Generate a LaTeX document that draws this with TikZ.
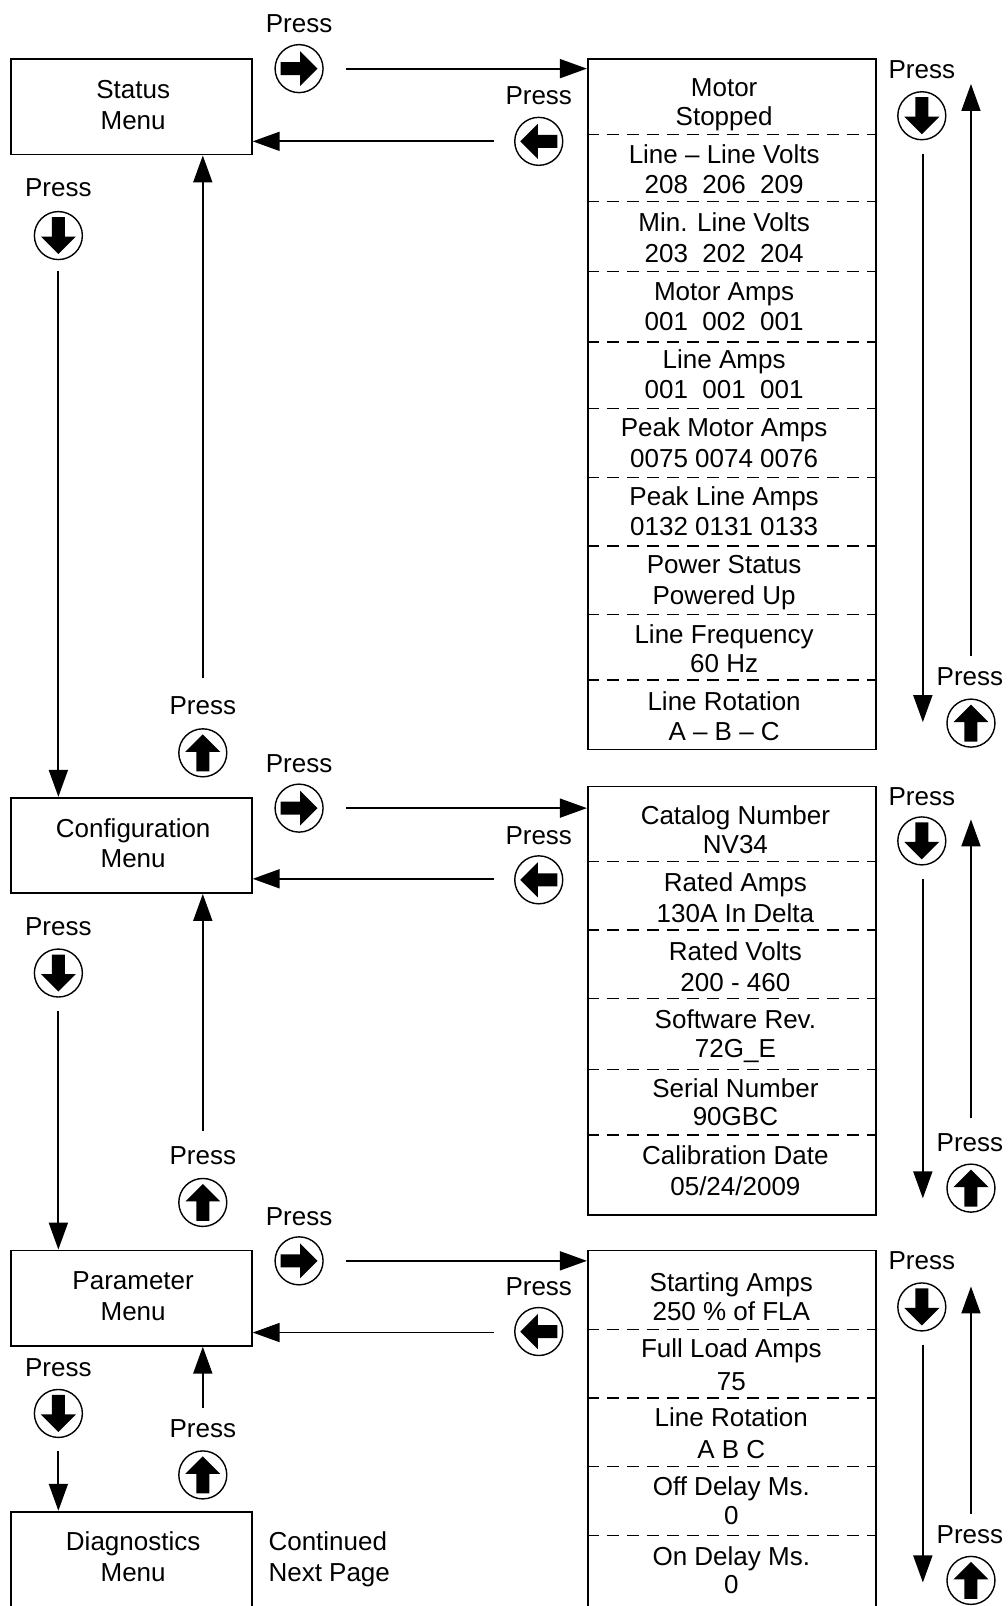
\documentclass[tikz,border=0pt]{standalone}
\usepackage{fontspec}
\setmainfont{Liberation Sans}
\usetikzlibrary{arrows.meta}
\newcommand\tline[4]{\node[txt,anchor=base] (#1) at (#2,#3+9.2) {#4};}
\newcommand\tlinew[4]{\node[txt,anchor=base west] (#1) at (#2,#3+9.2) {#4};}
\begin{document}
\begin{tikzpicture}[x=1.0244pt,y=-1.0244pt,
  txt/.style={inner sep=0pt, font=\fontsize{26}{30}\selectfont},
  menubox/.style={draw, line width=1.8pt, minimum width=240.7pt, minimum height=95.3pt, inner sep=0pt, anchor=north west},
  panel/.style={draw, line width=1.8pt, minimum width=287.9pt, inner sep=0pt, anchor=north west},
  dashline/.style={line width=1.3pt, dash pattern=on 12pt off 8pt},
  conn/.style={line width=1.8pt, -{Triangle[length=27pt,width=19pt]}},
  button/.style n args={2}{circle, draw, line width=1.4pt, minimum size=48pt, inner sep=0pt,
    path picture={\fill[shift={(path picture bounding box.center)}, x={#1}, y={#2}]
      (-18.5,-6.5) -- (1,-6.5) -- (1,-17.5) -- (18.5,0) -- (1,17.5) -- (1,6.5) -- (-18.5,6.5) -- cycle;}},
  btnR/.style={button={(1pt,0pt)}{(0pt,1pt)}},
  btnL/.style={button={(-1pt,0pt)}{(0pt,1pt)}},
  btnU/.style={button={(0pt,1pt)}{(1pt,0pt)}},
  btnD/.style={button={(0pt,-1pt)}{(1pt,0pt)}}
]
\path[use as bounding box, clip] (0,0) rectangle (984,1568);

% ---------- menu boxes ----------
\node[menubox] (status) at (10,57) {};
\node[menubox] (config) at (10,778) {};
\node[menubox] (param) at (10,1220) {};
\node[menubox, minimum height=110pt] (diag) at (10,1475) {};
\tline{statusa}{130}{87}{Status}
\tline{statusb}{130}{117}{Menu}
\tline{configa}{130}{808}{Configuration}
\tline{configb}{130}{838}{Menu}
\tline{parama}{130}{1250}{Parameter}
\tline{paramb}{130}{1280}{Menu}
\tline{diaga}{130}{1505}{Diagnostics}
\tline{diagb}{130}{1535}{Menu}
\tlinew{conta}{262}{1505}{Continued}
\tlinew{contb}{262}{1535}{Next Page}

% ---------- panels ----------
\node[panel, minimum height=690.4pt] (p1) at (573,57) {};
\node[panel, minimum height=428.2pt] (p2) at (573,767) {};
\node[panel, minimum height=380pt] (p3) at (573,1220) {};

\foreach \yy in {131,197,265,334,399,466,533,600,664}
  \draw[dashline] (573,\yy) -- (854,\yy);
\foreach \yy in {841,908,975,1044,1108}
  \draw[dashline] (573,\yy) -- (854,\yy);
\foreach \yy in {1298,1365,1432,1499}
  \draw[dashline] (573,\yy) -- (854,\yy);

% panel 1 texts
\tline{a1}{707}{85}{Motor}
\tline{b1}{707}{113}{Stopped}
\tline{a2}{707}{150}{Line – Line Volts}
\tline{b2}{707}{180}{208\ \ 206\ \ 209}
\tline{a3}{707}{217}{Min. Line Volts}
\tline{b3}{707}{247}{203\ \ 202\ \ 204}
\tline{a4}{707}{284}{Motor Amps}
\tline{b4}{707}{313}{001\ \ 002\ \ 001}
\tline{a5}{707}{351}{Line Amps}
\tline{b5}{707}{380}{001\ \ 001\ \ 001}
\tline{a6}{707}{417}{Peak Motor Amps}
\tline{b6}{707}{447}{0075 0074 0076}
\tline{a7}{707}{484}{Peak Line Amps}
\tline{b7}{707}{514}{0132 0131 0133}
\tline{a8}{707}{551}{Power Status}
\tline{b8}{707}{581}{Powered Up}
\tline{a9}{707}{619}{Line Frequency}
\tline{b9}{707}{647}{60 Hz}
\tline{a10}{707}{684}{Line Rotation}
\tline{b10}{707}{714}{A – B – C}

% panel 2 texts
\tline{c1}{718}{796}{Catalog Number}
\tline{d1}{718}{824}{NV34}
\tline{c2}{718}{861}{Rated Amps}
\tline{d2}{718}{891}{130A In Delta}
\tline{c3}{718}{929}{Rated Volts}
\tline{d3}{718}{959}{200 - 460}
\tline{c4}{718}{995}{Software Rev.}
\tline{d4}{718}{1023}{72G\_E}
\tline{c5}{718}{1062}{Serial Number}
\tline{d5}{718}{1090}{90GBC}
\tline{c6}{718}{1128}{Calibration Date}
\tline{d6}{718}{1158}{05/24/2009}

% panel 3 texts
\tline{e1}{714}{1252}{Starting Amps}
\tline{f1}{714}{1280}{250 \% of FLA}
\tline{e2}{714}{1316}{Full Load Amps}
\tline{f2}{714}{1348}{75}
\tline{e3}{714}{1384}{Line Rotation}
\tline{f3}{714}{1415}{A B C}
\tline{e4}{714}{1451}{Off Delay Ms.}
\tline{f4}{714}{1479}{0}
\tline{e5}{714}{1519}{On Delay Ms.}
\tline{f5}{714}{1547}{0}

% ---------- buttons and Press labels ----------
% row 1
\tline{pr1}{292}{23}{Press}   \node[btnR] (br1) at (292,67) {};
\tline{pl1}{526}{93}{Press}   \node[btnL] (bl1) at (526,138) {};
\tline{pd1}{57}{183}{Press}   \node[btnD] (bd1) at (57,230) {};
\tline{pu1}{198}{688}{Press}  \node[btnU] (bu1) at (198,735) {};
\tline{prd1}{900}{67}{Press}  \node[btnD] (brd1) at (900,113) {};
\tline{pru1}{947}{660}{Press} \node[btnU] (bru1) at (948,706) {};
% row 2
\tline{pr2}{292}{745}{Press}   \node[btnR] (br2) at (292,789) {};
\tline{pl2}{526}{815}{Press}   \node[btnL] (bl2) at (526,859) {};
\tline{pd2}{57}{904}{Press}    \node[btnD] (bd2) at (57,950) {};
\tline{pu2}{198}{1128}{Press}  \node[btnU] (bu2) at (198,1174) {};
\tline{prd2}{900}{777}{Press}  \node[btnD] (brd2) at (900,821) {};
\tline{pru2}{947}{1115}{Press} \node[btnU] (bru2) at (948,1160) {};
% row 3
\tline{pr3}{292}{1187}{Press}  \node[btnR] (br3) at (292,1231) {};
\tline{pl3}{526}{1256}{Press}  \node[btnL] (bl3) at (526,1300) {};
\tline{pd3}{57}{1335}{Press}   \node[btnD] (bd3) at (57,1380) {};
\tline{pu3}{198}{1394}{Press}  \node[btnU] (bu3) at (198,1440) {};
\tline{prd3}{900}{1230}{Press} \node[btnD] (brd3) at (900,1276) {};
\tline{pru3}{947}{1498}{Press} \node[btnU] (bru3) at (948,1543) {};

% ---------- connectors ----------
% row 1
\coordinate (r1s) at (338,67);   \draw[conn] (r1s) -- (r1s -| p1.west);
\coordinate (l1s) at (482,138);  \draw[conn] (l1s) -- (l1s -| status.east);
\coordinate (d1s) at (57,265);   \draw[conn] (d1s) -- (d1s |- config.north);
\coordinate (u1s) at (198,662);  \draw[conn] (u1s) -- (u1s |- status.south);
\coordinate (rd1s) at (901,150); \coordinate (rd1e) at (901,705); \draw[conn] (rd1s) -- (rd1e);
\coordinate (ru1s) at (948,640); \coordinate (ru1e) at (948,82);  \draw[conn] (ru1s) -- (ru1e);
% row 2
\coordinate (r2s) at (338,789);  \draw[conn] (r2s) -- (r2s -| p2.west);
\coordinate (l2s) at (482,858);  \draw[conn] (l2s) -- (l2s -| config.east);
\coordinate (d2s) at (57,987);   \draw[conn] (d2s) -- (d2s |- param.north);
\coordinate (u2s) at (198,1104); \draw[conn] (u2s) -- (u2s |- config.south);
\coordinate (rd2s) at (901,858); \coordinate (rd2e) at (901,1170); \draw[conn] (rd2s) -- (rd2e);
\coordinate (ru2s) at (948,1092); \coordinate (ru2e) at (948,800); \draw[conn] (ru2s) -- (ru2e);
% row 3
\coordinate (r3s) at (338,1231); \draw[conn] (r3s) -- (r3s -| p3.west);
\coordinate (l3s) at (482,1301); \draw[conn] (l3s) -- (l3s -| param.east);
\coordinate (d3s) at (57,1417);  \draw[conn] (d3s) -- (d3s |- diag.north);
\coordinate (u3s) at (198,1375); \draw[conn] (u3s) -- (u3s |- param.south);
\coordinate (rd3s) at (901,1313); \coordinate (rd3e) at (901,1545); \draw[conn] (rd3s) -- (rd3e);
\coordinate (ru3s) at (948,1478); \coordinate (ru3e) at (948,1256); \draw[conn] (ru3s) -- (ru3e);
\end{tikzpicture}
\end{document}
